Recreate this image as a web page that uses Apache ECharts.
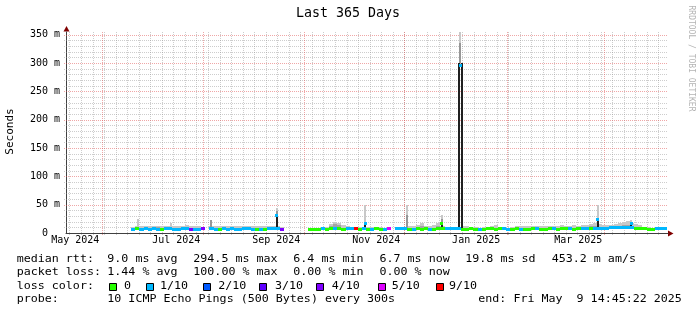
<!DOCTYPE html>
<html><head><meta charset="utf-8">
<script src="https://cdn.jsdelivr.net/npm/echarts@6/dist/echarts.min.js"></script>
<style>html,body{margin:0;padding:0;background:#fff}#c{width:697px;height:315px}</style>
</head><body><div id="c"></div>
<script>
// ---------------- DATA ----------------
// time axis: days since graph start (Fri May 9 2024 14:45:22), 365 days shown
const START = Date.UTC(2024, 4, 9, 14, 45, 22);
const X_MAX = 365;
const Y_MAX = 0.355;               // seconds
const BUCKET_DAYS = 2.5;           // RRA consolidation (2.5 days per row)
const BUCKET_OFFSET = -0.5;

// median RTT per bucket, ms (null = no data)
const MEDIAN = [
 null,null,null,null,null,null,null,null,null,null,
 null,null,null,null,null,null,7.0,7.2,6.8,7.1,
 7.0,7.3,6.9,7.0,7.2,7.1,6.9,7.0,7.3,7.1,
 7.0,6.8,7.0,7.2,null,7.1,7.0,6.9,7.2,7.0,
 7.1,6.9,7.0,7.2,7.1,7.0,6.8,6.9,7.0,7.1,
 7.3,7.2,7.0,null,null,null,null,null,null,6.9,
 6.8,7.0,7.1,6.9,7.2,7.4,7.1,7.0,7.2,7.3,
 7.1,7.0,7.2,6.9,7.0,7.1,6.8,7.0,7.1,null,
 7.3,7.2,7.4,7.0,6.9,7.1,7.0,7.2,6.9,7.0,
 7.1,7.3,7.2,7.3,7.4,7.2,7.0,6.9,7.1,7.0,
 6.8,6.9,7.1,7.2,7.0,7.1,7.3,7.0,6.9,7.1,
 7.0,6.9,7.0,7.2,7.1,7.0,6.9,7.1,7.2,7.0,
 7.1,7.3,7.1,7.0,7.2,7.4,7.6,7.8,8.0,8.2,
 8.6,8.8,9.0,9.2,9.4,9.6,9.3,9.1,8.8,8.2,
 7.4,7.0,6.9,7.1,7.2,7.3
];
// lost pings out of 10 per bucket
const LOSS = [
 null,null,null,null,null,null,null,null,null,null,
 null,null,null,null,null,null,1,0,1,1,
 1,1,1,0,1,1,1,1,1,1,
 4,1,1,4,null,1,1,0,1,1,
 1,1,1,1,1,1,0,1,0,1,
 1,1,4,null,null,null,null,null,null,0,
 0,0,1,0,0,1,0,0,1,1,
 9,0,1,0,1,0,0,1,5,null,
 1,1,1,0,1,0,0,0,1,0,
 0,0,1,1,1,1,0,0,0,0,
 1,0,0,0,0,0,1,1,0,0,
 1,0,0,0,1,0,0,0,1,0,
 0,0,1,0,0,1,1,0,1,1,
 1,1,1,1,1,1,1,1,0,0,
 0,0,0,1,1,1
];
// top of the light smoke (outer pings), ms
const SMOKE_HI = [
 null,null,null,null,null,null,null,null,null,null,
 null,null,null,null,null,null,10.5,12,12.5,12,
 11.5,12.5,13,13,12,12.5,12,12,13,13.5,
 13,12,11.5,11,null,11.5,12,11.5,11.5,12,
 11.5,11.5,12,11.5,11.5,12,11.5,11.5,12,11.5,
 12,12,10,null,null,null,null,null,null,8.5,
 8.5,9,9.5,10,16,20,18,14,12.5,11,
 10,10.5,11,10.5,10,10.5,10,9.5,9,null,
 9.5,10,10.5,11.5,13,14,17,13,12.5,15,
 17,13,10,9.5,9.5,9.5,12,13,11,10,
 9.5,10,10.5,12,15,11,10,9.5,10.5,12,
 12.5,12,13,12.5,12,13,12.5,13,12,13,
 13.5,12.5,13,13.5,13,13.5,15,16,17,16,
 14.5,14,15,16,17,19,21,18,16,13.5,
 10.5,10,9.5,9.5,10,9.5
];
// top of the darker smoke (inner pings), ms
const SMOKE_MID = [
 null,null,null,null,null,null,null,null,null,null,
 null,null,null,null,null,null,null,null,null,null,
 null,null,10.5,null,null,null,null,null,null,11,
 null,null,null,null,null,null,null,null,null,null,
 null,null,null,null,null,null,null,null,null,null,
 null,null,null,null,null,null,null,null,null,null,
 null,null,null,null,12,16,14,null,null,null,
 null,null,null,null,null,null,null,null,null,null,
 null,null,null,null,null,null,12,null,null,null,
 12,null,null,null,null,null,null,null,null,null,
 null,null,null,null,null,null,null,null,null,null,
 null,null,null,null,null,null,null,null,null,null,
 null,null,null,null,null,null,null,12,13,null,
 null,null,null,null,12,14,15,null,null,null,
 null,null,null,null,null,null
];
// short-lived spikes (day position, values in ms)
const SPIKE_DAY   = [43.8, 63.7, 87.7, 127.7, 181.3, 206.8, 227.7, 238.0, 239.0, 239.8, 322.3, 342.6];
const SPIKE_LO    = [7,    7,    7,    7,     7,     7,     7,     7,     300,   7,     7.5,   9];
const SPIKE_TOP   = [24,   18,   null, 45,    49.5,  49.5,  32,    null,  355,   null,  49.5,  23];
const SPIKE_MID   = [null, null, 23,   39,    null,  31,    25,    null,  335,   null,  null,  null];
const SPIKE_BLACK = [null, null, null, 29,    17,    null,  16,    300,   null,  300,   23,    15];
const SPIKE_MED   = [null, null, null, 31,    17,    null,  17,    null,  295,   null,  23.5,  16];
const SPIKE_LOSS  = [null, null, null, 1,     1,     null,  0,     null,  1,     null,  1,     1];

// axis labels
const X_LABELS = ['May 2024','Jul 2024','Sep 2024','Nov 2024','Jan 2025','Mar 2025'];
const X_LABEL_POS = [5.64, 66.88, 127.51, 188.14, 248.71, 310.62];
const Y_TICKS = [0, 0.05, 0.10, 0.15, 0.20, 0.25, 0.30, 0.35];
const Y_TICK_LABELS = ['0  ', '50 m', '100 m', '150 m', '200 m', '250 m', '300 m', '350 m'];
const MAJOR_GRID_DATES = [[2024,5,1],[2024,7,1],[2024,9,1],[2024,11,1],[2025,1,1],[2025,3,1]];
const FIRST_SUNDAY = [2024,4,12];

const LEGEND_LOSS = [0,1,2,3,4,5,9];
const LEGEND_LOSS_TEXT = ['0','1/10','2/10','3/10','4/10','5/10','9/10'];
const LOSS_COLORS = {0:'#26ff00',1:'#00b8ff',2:'#0059ff',3:'#5e00ff',4:'#7e00ff',5:'#dd00ff',9:'#ff0000'};

// ---------------- CHART ----------------
const FONT = '"DejaVu Sans Mono", monospace';
const dayOf = (y,m,d) => (Date.UTC(y,m,d) - START) / 864e5;
const MONTH_DAYS = MAJOR_GRID_DATES.map(a => dayOf(a[0], a[1], a[2]));
const WEEK_DAYS = [];
for (let t = dayOf(...FIRST_SUNDAY); t < X_MAX; t += 7) WEEK_DAYS.push(t);
const Y_MINOR = [], Y_MAJOR = [];
for (let k = 1; k <= 35; k++) { (k % 5 === 0 ? Y_MAJOR : Y_MINOR).push(k / 100); }

const ms = v => v / 1000;
const bucketIdx = MEDIAN.map((v,i) => v == null ? -1 : i).filter(i => i >= 0);
const bStart = i => i * BUCKET_DAYS + BUCKET_OFFSET;

function vGrid(kind) {
  return function (params, api) {
    const d = api.value(0);
    const x = Math.floor(api.coord([d, 0])[0]) + 0.5;
    const y0 = Math.round(api.coord([0, Y_MAX])[1]);
    const y1 = Math.round(api.coord([0, 0])[1]) + 2;
    return {type:'line', shape:{x1:x, y1:y0, x2:x, y2:y1},
      style:{stroke: kind ? 'rgba(224,80,80,0.5)' : 'rgba(144,144,144,0.45)', lineWidth:1, lineDash:[1,1]}};
  };
}
function hGrid(kind) {
  return function (params, api) {
    const v = api.value(1);
    const y = Math.round(api.coord([0, v])[1]) + 0.5;
    const x0 = api.coord([0, 0])[0] - 2;
    const x1 = api.coord([X_MAX, 0])[0];
    return {type:'line', shape:{x1:x0, y1:y, x2:x1, y2:y},
      style:{stroke: kind ? 'rgba(224,80,80,0.5)' : 'rgba(144,144,144,0.45)', lineWidth:1, lineDash:[1,1]}};
  };
}
function bucketX(api, i) {
  return [Math.round(api.coord([bStart(i), 0])[0]), Math.round(api.coord([bStart(i) + BUCKET_DAYS, 0])[0])];
}
function smokeItem(params, api) {
  const i = api.value(2);
  const [xa, xb] = bucketX(api, i);
  const ym = Math.round(api.coord([0, ms(MEDIAN[i])])[1]);
  const ch = [];
  const add = (v, fill) => {
    if (v == null) return;
    const yt = Math.round(api.coord([0, ms(v)])[1]);
    if (ym - yt > 0) ch.push({type:'rect', shape:{x:xa, y:yt, width:xb - xa, height:ym - yt}, style:{fill}});
  };
  add(SMOKE_HI[i], '#c8c8c8');
  add(SMOKE_MID[i], '#a4a4a4');
  return {type:'group', children: ch};
}
function bandItem(params, api) {
  const i = api.value(2);
  const [xa, xb] = bucketX(api, i);
  const yc = api.coord([0, ms(MEDIAN[i])])[1];
  return {type:'rect', shape:{x:xa, y:Math.round(yc - 1.5), width:xb - xa, height:3},
    style:{fill: LOSS_COLORS[LOSS[i]]}};
}
function spikeRect(api, k, lo, hi, fill, w) {
  const x = api.coord([SPIKE_DAY[k], 0])[0];
  const yl = Math.round(api.coord([0, ms(lo)])[1]);
  const yh = Math.round(api.coord([0, ms(hi)])[1]);
  return {type:'rect', shape:{x:Math.round(x - w / 2), y:yh, width:w, height:Math.max(yl - yh, 1)}, style:{fill}};
}
function spikeGreyItem(params, api) {
  const k = api.value(2);
  const ch = [];
  if (SPIKE_TOP[k] != null) ch.push(spikeRect(api, k, SPIKE_LO[k], SPIKE_TOP[k], '#c8c8c8', 2));
  if (SPIKE_MID[k] != null) ch.push(spikeRect(api, k, SPIKE_LO[k], SPIKE_MID[k], '#969696', 2));
  return {type:'group', children: ch};
}
function spikeBlackItem(params, api) {
  const k = api.value(2);
  if (SPIKE_BLACK[k] == null) return {type:'group', children:[]};
  return spikeRect(api, k, SPIKE_LO[k], SPIKE_BLACK[k], '#202020', 2);
}
function spikeMarkItem(params, api) {
  const k = api.value(2);
  if (SPIKE_MED[k] == null) return {type:'group', children:[]};
  const p = api.coord([SPIKE_DAY[k], ms(SPIKE_MED[k])]);
  return {type:'rect', shape:{x:Math.round(p[0] - 1.5), y:Math.round(p[1] - 1.5), width:3, height:3},
    style:{fill: LOSS_COLORS[SPIKE_LOSS[k]]}};
}

const bucketData = bucketIdx.map(i => [bStart(i) + BUCKET_DAYS / 2, ms(MEDIAN[i]), i]);
const spikeData = SPIKE_DAY.map((d, k) => [d, ms(SPIKE_LO[k]), k]);
const base = {type:'custom', coordinateSystem:'cartesian2d', silent:true, animation:false, encode:{x:0, y:1}};

// legend graphics
const txt = (x, y, text, opt = {}) => ({
  type:'text', x, y, scaleX: opt.sx || 1, rotation: opt.rot || 0, silent:true,
  style:{text, x:0, y:0, font: (opt.size || 11) + 'px ' + FONT, fill: opt.fill || '#000',
    align: opt.align || 'left', verticalAlign:'middle', textAlign: opt.align || 'left', textVerticalAlign:'middle'}
});
const LSX = 1.06;
const graphics = [
  txt(348, 14, 'Last 365 Days', {size:13.3, align:'center'}),
  txt(10.5, 131.5, 'Seconds', {rot: Math.PI / 2, align:'center'}),
  txt(691.5, 58.5, 'RRDTOOL / TOBI OETIKER', {rot: -Math.PI / 2, align:'center', size:8, fill:'#b4b4b4'}),
  {type:'polygon', silent:true, shape:{points:[[63.5,31.5],[69.5,31.5],[66.5,26]]}, style:{fill:'#800000'}},
  {type:'polygon', silent:true, shape:{points:[[668,230.5],[668,236.5],[673.5,233.5]]}, style:{fill:'#800000'}},
  txt(16.7, 259.5, 'median rtt:', {sx:LSX}),
  txt(107.3, 259.5, '9.0 ms avg', {sx:LSX}),
  txt(193.3, 259.5, '294.5 ms max', {sx:LSX}),
  txt(293.3, 259.5, '6.4 ms min', {sx:LSX}),
  txt(379.5, 259.5, '6.7 ms now', {sx:LSX}),
  txt(465.3, 259.5, '19.8 ms sd', {sx:LSX}),
  txt(551.7, 259.5, '453.2 m am/s', {sx:LSX}),
  txt(16.7, 272.5, 'packet loss:', {sx:LSX}),
  txt(107.3, 272.5, '1.44 % avg', {sx:LSX}),
  txt(193.3, 272.5, '100.00 % max', {sx:LSX}),
  txt(293.3, 272.5, '0.00 % min', {sx:LSX}),
  txt(379.5, 272.5, '0.00 % now', {sx:LSX}),
  txt(16.7, 286.5, 'loss color:', {sx:LSX}),
  txt(16.7, 299.5, 'probe:', {sx:LSX}),
  txt(107.3, 299.5, '10 ICMP Echo Pings (500 Bytes) every 300s', {sx:LSX}),
  txt(478.3, 299.5, 'end: Fri May  9 14:45:22 2025', {sx:LSX})
];
const BOX_X = [109, 146, 203, 259, 316, 378, 436];
const BOX_TX = [124, 160, 218.3, 275, 331.7, 391.7, 449];
LEGEND_LOSS.forEach((l, k) => {
  graphics.push({type:'rect', silent:true, shape:{x:BOX_X[k] + 0.5, y:283.5, width:7, height:7},
    style:{fill: LOSS_COLORS[l], stroke:'#000', lineWidth:1}});
  graphics.push(txt(BOX_TX[k], 286.5, LEGEND_LOSS_TEXT[k], {sx:LSX}));
});

const chart = echarts.init(document.getElementById('c'), null, {renderer:'canvas'});
chart.setOption({
  animation:false,
  backgroundColor:'#ffffff',
  grid:{left:66, right:29, top:32, bottom:82, containLabel:false},
  xAxis:{type:'value', min:0, max:X_MAX,
    axisLine:{show:true, lineStyle:{color:'#404040', width:1}},
    axisTick:{show:false}, splitLine:{show:false},
    axisLabel:{customValues:X_LABEL_POS, margin:2, color:'#000', fontFamily:FONT, fontSize:10,
      formatter:(v) => { const k = X_LABEL_POS.findIndex(p => Math.abs(p - v) < 1e-6); return k >= 0 ? X_LABELS[k] : ''; }}},
  yAxis:{type:'value', min:0, max:Y_MAX,
    axisLine:{show:true, lineStyle:{color:'#404040', width:1}},
    axisTick:{show:false}, splitLine:{show:false},
    axisLabel:{customValues:Y_TICKS, margin:6, color:'#000', fontFamily:FONT, fontSize:10,
      formatter:(v) => { const k = Y_TICKS.findIndex(p => Math.abs(p - v) < 1e-9); return k >= 0 ? Y_TICK_LABELS[k] : ''; }}},
  graphic: graphics,
  series:[
    Object.assign({}, base, {name:'gridMinorV', data:WEEK_DAYS.map(d => [d, 0]), renderItem:vGrid(0)}),
    Object.assign({}, base, {name:'gridMinorH', data:Y_MINOR.map(v => [0, v]), renderItem:hGrid(0)}),
    Object.assign({}, base, {name:'gridMajorV', data:MONTH_DAYS.map(d => [d, 0]), renderItem:vGrid(1)}),
    Object.assign({}, base, {name:'gridMajorH', data:Y_MAJOR.map(v => [0, v]), renderItem:hGrid(1)}),
    Object.assign({}, base, {name:'smoke', data:bucketData, renderItem:smokeItem}),
    Object.assign({}, base, {name:'spikeGrey', data:spikeData, renderItem:spikeGreyItem}),
    Object.assign({}, base, {name:'spikeBlack', data:spikeData, renderItem:spikeBlackItem}),
    Object.assign({}, base, {name:'median', data:bucketData, renderItem:bandItem}),
    Object.assign({}, base, {name:'spikeMedian', data:spikeData, renderItem:spikeMarkItem})
  ]
});
</script></body></html>
